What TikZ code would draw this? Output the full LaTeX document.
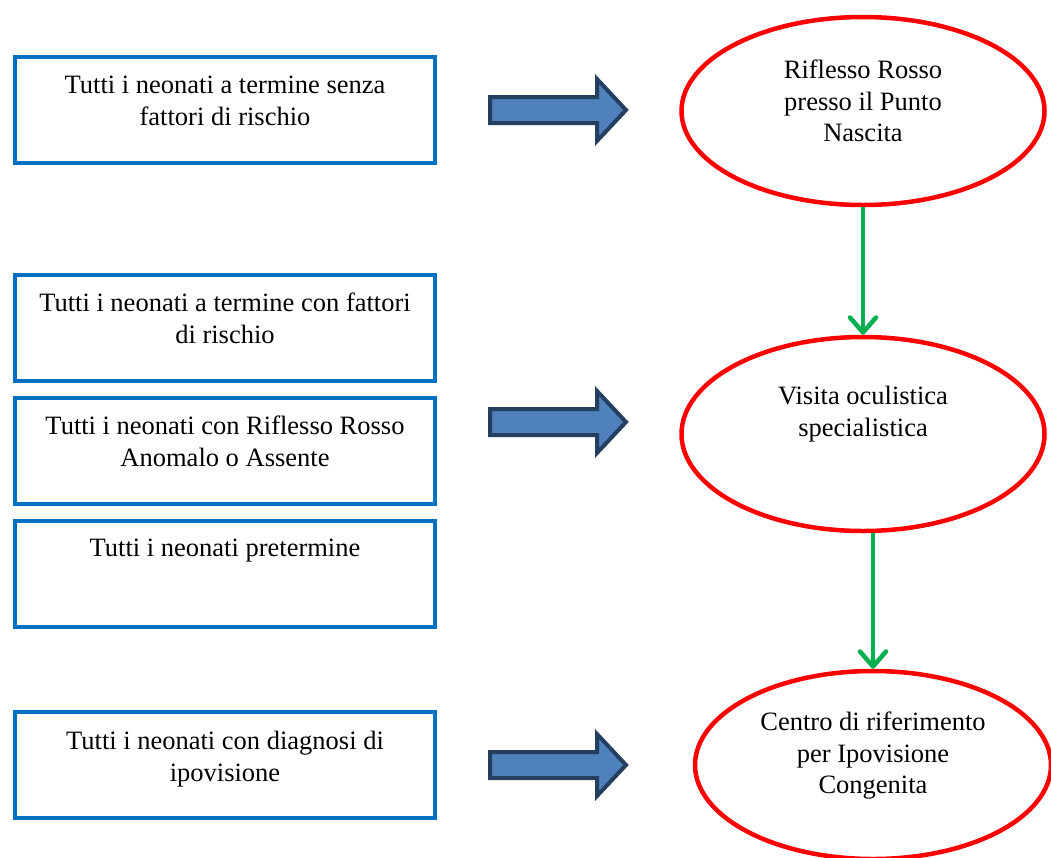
\documentclass[tikz,border=0pt]{standalone}
\usepackage{fontspec}
\setmainfont{Liberation Serif}
\usetikzlibrary{shapes.geometric,arrows.meta}
\definecolor{boxblue}{HTML}{0070C0}
\definecolor{arrowfill}{HTML}{4F81BD}
\definecolor{arrowdraw}{HTML}{243F60}
\definecolor{flowgreen}{HTML}{00B050}
\begin{document}
\begin{tikzpicture}[x=1pt,y=-1pt,
    groupbox/.style={draw=boxblue, line width=4pt, rectangle, minimum width=420pt, minimum height=106pt, inner sep=0pt},
    stagebox/.style={draw=red, line width=4.5pt, ellipse, inner sep=0pt},
    boxtext/.style={align=center, inner sep=0pt, anchor=north, font=\fontsize{26.5}{31.5}\selectfont},
    blockarrow/.style={draw=arrowdraw, fill=arrowfill, line width=4pt, line join=miter},
    flowarrow/.style={draw=flowgreen, line width=4.5pt, -{Straight Barb[length=15pt,width=26pt,round]}}]
    \useasboundingbox (0,0) rectangle (1051,857);

    % Groups of newborns
    \node[groupbox] (box_senza) at (225,110) {};
    \node[groupbox] (box_con) at (225,328) {};
    \node[groupbox] (box_anomalo) at (225,450.5) {};
    \node[groupbox] (box_pretermine) at (225,573.5) {};
    \node[groupbox] (box_ipovisione) at (225,765) {};

    \node[boxtext] (txt_senza) at (225,76) {Tutti i neonati a termine senza\\fattori di rischio};
    \node[boxtext] (txt_con) at (225,293) {Tutti i neonati a termine con fattori\\di rischio};
    \node[boxtext] (txt_anomalo) at (225,416) {Tutti i neonati con Riflesso Rosso\\Anomalo o Assente};
    \node[boxtext] (txt_pretermine) at (225,539) {Tutti i neonati pretermine};
    \node[boxtext] (txt_ipovisione) at (225,731) {Tutti i neonati con diagnosi di\\ipovisione};

    % Stages
    \node[stagebox, minimum width=363pt, minimum height=188pt] (ell_nascita) at (863,111) {};
    \node[stagebox, minimum width=363pt, minimum height=194pt] (ell_visita) at (863,434) {};
    \node[stagebox, minimum width=356pt, minimum height=188pt] (ell_centro) at (873,765) {};

    \node[boxtext] (txt_nascita) at (863,60) {Riflesso Rosso\\presso il Punto\\Nascita};
    \node[boxtext] (txt_visita) at (863,386) {Visita oculistica\\specialistica};
    \node[boxtext] (txt_centro) at (873,712) {Centro di riferimento\\per Ipovisione\\Congenita};

    % Block arrows
    \foreach \ay in {110,422,765}
        \draw[blockarrow] (490,\ay-13) -- (597,\ay-13) -- (597,\ay-31) -- (626,\ay)
            -- (597,\ay+31) -- (597,\ay+13) -- (490,\ay+13) -- cycle;

    % Connections
    \draw[flowarrow] (ell_nascita.south) -- (ell_visita.north);
    \draw[flowarrow] (ell_centro.north |- ell_visita.south) -- (ell_centro.north);
\end{tikzpicture}
\end{document}
